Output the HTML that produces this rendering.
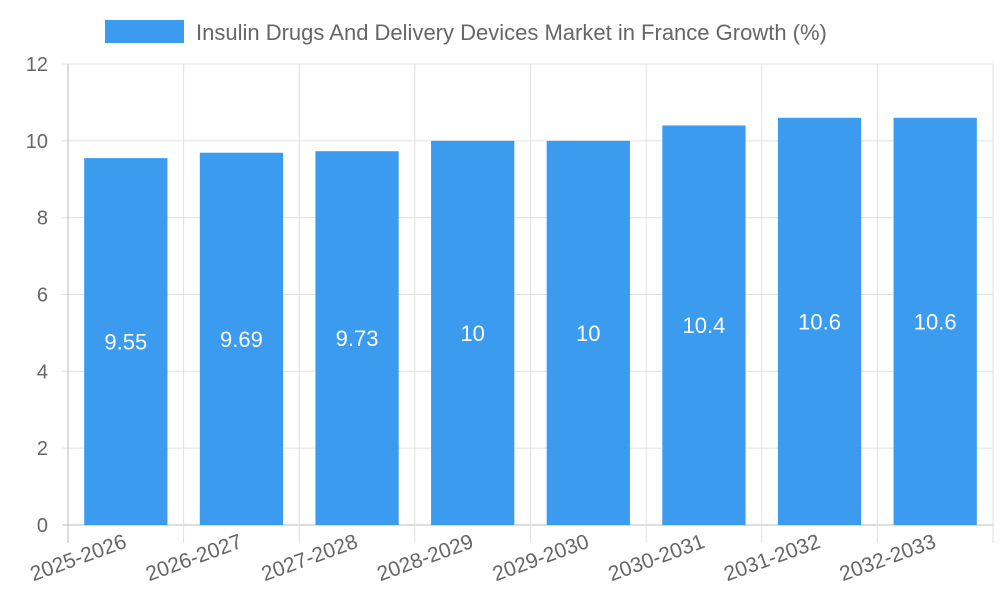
<!DOCTYPE html>
<html><head><meta charset="utf-8"><style>body{margin:0;background:#fff}svg{display:block;font-family:"Liberation Sans",sans-serif}</style></head>
<body>
<svg id="chart" width="1000" height="600" xmlns="http://www.w3.org/2000/svg">
<g id="legend">
<rect x="105" y="20" width="79" height="23" fill="#3a9bef"/>
<text x="196" y="40" font-size="22" fill="#666">Insulin Drugs And Delivery Devices Market in France Growth (%)</text>
</g>
<g id="grid"></g><g id="bars"></g><g id="axes"></g>
</svg>
<script>
const categories=["2025-2026","2026-2027","2027-2028","2028-2029","2029-2030","2030-2031","2031-2032","2032-2033"];
const values=[9.55,9.69,9.73,10,10,10.4,10.6,10.6];
const valueLabels=["9.55","9.69","9.73","10","10","10.4","10.6","10.6"];
const yTicks=[0,2,4,6,8,10,12];
const L=68,R=993,T=64,B=525,yMax=12;
const NS="http://www.w3.org/2000/svg";
const step=(R-L)/categories.length;
const y=v=>B-(v/yMax)*(B-T);
const x=i=>L+i*step;
function mk(tag,attrs,parent,text){const e=document.createElementNS(NS,tag);for(const k in attrs)e.setAttribute(k,attrs[k]);if(text!==undefined)e.textContent=text;document.getElementById(parent).appendChild(e);return e;}
yTicks.forEach(t=>{
 const g=mk('line',{x1:L-6,x2:R,y1:y(t),y2:y(t),stroke:t===0?'#bbb':'#e0e0e0','stroke-width':1},'grid');
 
 
 const tl=mk('text',{x:L-20,y:y(t)+7,'text-anchor':'end','font-size':20,fill:'#666'},'axes',String(t));
 
 
});
for(let i=0;i<=categories.length;i++){
 const g=mk('line',{x1:x(i),x2:x(i),y1:T,y2:B+18,stroke:i===0?'#bbb':'#e0e0e0','stroke-width':1},'grid');
 
 
}
categories.forEach((c,i)=>{
 const bw=step*0.72,cx=x(i)+step/2;
 const r=mk('rect',{x:cx-bw/2,y:y(values[i]),width:bw,height:B-y(values[i]),fill:'#3a9bef'},'bars');
 
 
 const vl=mk('text',{x:cx,y:(y(values[i])+B)/2+8,'text-anchor':'middle','font-size':22,fill:'#fff'},'bars',valueLabels[i]);
 
 
 const xl=mk('text',{x:cx+2,y:B+22,'text-anchor':'end','font-size':21,fill:'#666',transform:`rotate(-20 ${cx+2} ${B+22})`},'axes',c);
 
 
});
</script>
</body></html>
